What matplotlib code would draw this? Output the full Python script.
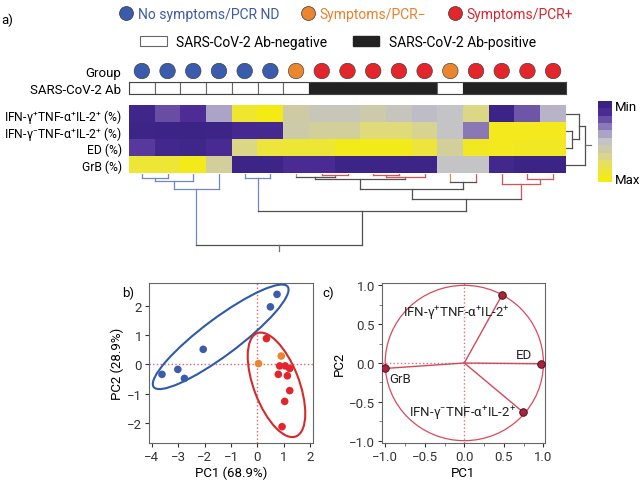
import numpy as np
import matplotlib
matplotlib.use('Agg')
import matplotlib.pyplot as plt
import matplotlib.colors as mcolors
from matplotlib.patches import Ellipse, Circle, Patch
from matplotlib.lines import Line2D
from matplotlib.ticker import AutoMinorLocator

plt.rcParams['font.family'] = ['Roboto', 'DejaVu Sans']
plt.rcParams['font.size'] = 10
plt.rcParams['axes.unicode_minus'] = True
plt.rcParams['mathtext.fontset'] = 'custom'
plt.rcParams['mathtext.rm'] = 'Roboto'
plt.rcParams['mathtext.it'] = 'Roboto'
plt.rcParams['mathtext.default'] = 'regular'

# ---- data ----
group_names = ['No symptoms/PCR ND', 'Symptoms/PCR\u2212', 'Symptoms/PCR+']
group_colors = ['#3b5cad', '#ea8530', '#e3262c']
group_text_colors = ['#3f5aa6', '#e8802a', '#d9262e']

# per subject (heatmap column order)
group = [0, 0, 0, 0, 0, 0, 1, 2, 2, 2, 2, 2, 1, 2, 2, 2, 2]
ab_pos = [0, 0, 0, 0, 0, 0, 0, 1, 1, 1, 1, 1, 0, 1, 1, 1, 1]

row_labels = ['IFN-\u03b3$^{+}$TNF-\u03b1$^{+}$IL-2$^{+}$ (%)',
              'IFN-\u03b3$^{-}$TNF-\u03b1$^{+}$IL-2$^{+}$ (%)',
              'ED (%)', 'GrB (%)']
# scaled values, 0 = min, 1 = max
ifn_pos = [0.05, 0.2, 0.12, 0.4, 0.92, 1.0, 0.62, 0.55, 0.55, 0.6, 0.53, 0.48, 0.5, 0.72, 0.02, 0.22, 0.45]
ifn_neg = [0.03, 0.02, 0.02, 0.03, 0.08, 0.08, 0.6, 0.65, 0.65, 0.75, 0.75, 0.68, 0.5, 0.3, 0.97, 0.97, 0.97]
ed_pct = [0.15, 0.06, 0.04, 0.09, 0.72, 0.88, 0.9, 0.9, 0.98, 0.98, 0.98, 0.88, 0.65, 0.95, 0.97, 0.95, 0.95]
grb_pct = [0.9, 0.9, 0.98, 0.65, 0.03, 0.03, 0.1, 0.1, 0.03, 0.03, 0.03, 0.03, 0.5, 0.5, 0.06, 0.02, 0.02]

# column clustering: (child a, child b, height); new clusters numbered from 17
col_merges = [(0, 1, 4), (17, 2, 7), (18, 3, 15), (4, 5, 4), (7, 8, 0.8), (6, 21, 3),
              (9, 10, 0.8), (23, 11, 3), (22, 24, 5), (12, 13, 8), (25, 26, 15),
              (15, 16, 5), (14, 28, 10), (27, 29, 25), (20, 30, 37), (19, 31, 71)]
# row clustering, new clusters numbered from 4
row_merges = [(1, 2, 6), (0, 4, 13), (5, 3, 19)]

# PCA scores
pc1 = [-3.61, -3.01, -2.76, -2.05, 0.49, 0.74, 0.04, 0.9,
       0.34, 0.84, 1.05, 1.22, 0.79, 1.13, 1.22, 1.03, 0.93]
pc2 = [-0.34, -0.17, -0.48, 0.52, 1.98, 2.41, 0.03, 0.29,
       0.89, -0.05, -0.05, -0.14, -0.34, -0.39, -0.9, -1.27, -2.14]
pc_group = [0, 0, 0, 0, 0, 0, 1, 1, 2, 2, 2, 2, 2, 2, 2, 2, 2]
# group ellipses: centre x, centre y, width, height, angle
ell_blue = (-1.39, 0.95, 6.13, 1.3, 34)
ell_red = (0.72, -0.7, 3.84, 1.7, -66.8)

# loadings
load_names = ['IFN-\u03b3$^{+}$TNF-\u03b1$^{+}$IL-2$^{+}$', 'ED', 'GrB',
              'IFN-\u03b3$^{-}$TNF-\u03b1$^{+}$IL-2$^{+}$']
load_x = [0.48, 0.97, -1.0, 0.74]
load_y = [0.88, -0.01, -0.07, -0.63]

# ---- layout helpers ----
W, H = 640, 481
def rect(x0, y0, x1, y1):
    return [x0 / W, 1 - y1 / H, (x1 - x0) / W, (y1 - y0) / H]

FS = 9.5
fig = plt.figure(figsize=(6.4, 4.81), dpi=100)

cmap = mcolors.LinearSegmentedColormap.from_list('minmax', [
    (0.0, '#382383'), (0.12, '#4e2d97'), (0.25, '#7a62ae'), (0.38, '#a79ec6'),
    (0.5, '#c4c3c6'), (0.62, '#cfcca4'), (0.75, '#e0db7c'), (0.88, '#ede53c'),
    (1.0, '#f5eb14')])

# legend rows
h1 = [Line2D([0], [0], marker='o', ls='', markerfacecolor=c, markeredgecolor='#333333',
             markeredgewidth=0.5, markersize=10) for c in group_colors]
leg1 = fig.legend(h1, group_names, loc='center', bbox_to_anchor=(346 / W, 1 - 15 / H),
                  ncol=3, frameon=False, fontsize=10, handletextpad=0.3,
                  columnspacing=1.6, handlelength=1.0)
for t, c in zip(leg1.get_texts(), group_text_colors):
    t.set_color(c)
h2 = [Patch(facecolor='white', edgecolor='#666666', lw=0.8),
      Patch(facecolor='#222222', edgecolor='#222222')]
fig.legend(h2, ['SARS-CoV-2 Ab-negative', 'SARS-CoV-2 Ab-positive'], loc='center',
           bbox_to_anchor=(338 / W, 1 - 43 / H), ncol=2, frameon=False, fontsize=10,
           handlelength=1.9, handleheight=0.8, handletextpad=0.7, columnspacing=1.8)

n = len(group)
xs = np.arange(n) + 0.5

# group dots
ax_g = fig.add_axes(rect(129, 62, 566, 82))
ax_g.scatter(xs, np.full(n, 0.5), c=[group_colors[g] for g in group], s=125,
             edgecolors='#333333', linewidths=0.4)
ax_g.set_xlim(0, n)
ax_g.set_ylim(0, 1)
ax_g.set_xticks([])
ax_g.set_yticks([0.5])
ax_g.set_yticklabels(['Group'], fontsize=FS)
ax_g.tick_params(length=0, pad=6)
for s in ax_g.spines.values():
    s.set_visible(False)

# antibody bar
ax_a = fig.add_axes(rect(129, 83, 566, 95))
ab_face = ['#222222' if a else 'white' for a in ab_pos]
ab_edge = ['#222222' if a else '#666666' for a in ab_pos]
ax_a.bar(xs, np.ones(n), width=1, color=ab_face, edgecolor=ab_edge, linewidth=0.8)
ax_a.set_xlim(0, n)
ax_a.set_ylim(0, 1)
ax_a.set_xticks([])
ax_a.set_yticks([0.5])
ax_a.set_yticklabels(['SARS-CoV-2 Ab'], fontsize=FS)
ax_a.tick_params(length=0, pad=6)
for s in ax_a.spines.values():
    s.set_color('#444444')
    s.set_linewidth(0.8)

# heatmap
data = np.array([ifn_pos, ifn_neg, ed_pct, grb_pct])
ax_h = fig.add_axes(rect(129, 106, 566, 174))
ax_h.imshow(data, cmap=cmap, vmin=0, vmax=1, aspect='auto', interpolation='nearest')
ax_h.set_xticks([])
ax_h.set_yticks(range(4))
ax_h.set_yticklabels(row_labels, fontsize=8.7)
ax_h.tick_params(length=0, pad=5)
for s in ax_h.spines.values():
    s.set_visible(False)

# dendrograms
dendro_colors = ['#7088c0', '#d89050', '#dc5058']
mixed = '#505050'

def draw_dendro(ax, merges, n_leaves, leaf_groups, vertical=True):
    pos = {i: i + 0.5 for i in range(n_leaves)}
    hgt = {i: 0 for i in range(n_leaves)}
    mem = {i: {i} for i in range(n_leaves)}
    def colour(k):
        if leaf_groups is None:
            return mixed
        gs = {leaf_groups[i] for i in mem[k]}
        return dendro_colors[gs.pop()] if len(gs) == 1 else mixed
    def seg(p, q, col):
        if vertical:
            ax.plot(p, q, color=col, lw=0.9)
        else:
            ax.plot(q, p, color=col, lw=0.9)
    for k, (a, b, h) in enumerate(merges):
        new = n_leaves + k
        mem[new] = mem[a] | mem[b]
        pos[new] = (pos[a] + pos[b]) / 2
        hgt[new] = h
        seg([pos[a], pos[a]], [hgt[a], h], colour(a))
        seg([pos[b], pos[b]], [hgt[b], h], colour(b))
        seg([pos[a], pos[b]], [h, h], colour(new))
    root = n_leaves + len(merges) - 1
    seg([pos[root], pos[root]], [hgt[root], hgt[root] + 6], '#707070')
    ax.axis('off')

ax_cd = fig.add_axes(rect(129, 175, 566, 255))
draw_dendro(ax_cd, col_merges, n, group, vertical=True)
ax_cd.set_xlim(0, n)
ax_cd.set_ylim(80, 0)

ax_rd = fig.add_axes(rect(566, 106, 594, 174))
draw_dendro(ax_rd, row_merges, 4, None, vertical=False)
ax_rd.set_xlim(0, 28)
ax_rd.set_ylim(4, 0)

# colour bar
ax_cb = fig.add_axes(rect(598, 102, 612, 183))
band_cmap = mcolors.ListedColormap(cmap(np.linspace(0, 1, 11)))
cb = fig.colorbar(plt.cm.ScalarMappable(norm=mcolors.Normalize(0, 1), cmap=band_cmap),
                  cax=ax_cb)
cb.outline.set_visible(False)
ax_cb.invert_yaxis()
cb.set_ticks([0.05, 0.95])
cb.set_ticklabels(['Min', 'Max'])
ax_cb.tick_params(length=0, pad=2, labelsize=FS)

# ---- panel b: PCA scores ----
ax_b = fig.add_axes(rect(149, 284, 313, 444))
pc1 = np.array(pc1)
pc2 = np.array(pc2)
pc_group = np.array(pc_group)
ax_b.axhline(0, color='#e06070', ls=':', lw=1, zorder=1)
ax_b.axvline(0, color='#e06070', ls=':', lw=1, zorder=1)
for g in range(3):
    m = pc_group == g
    ax_b.scatter(pc1[m], pc2[m], color=group_colors[g], s=30, zorder=3, edgecolors='none')
for e, c in [(ell_blue, '#2f5aa8'), (ell_red, '#d42a2a')]:
    ax_b.add_patch(Ellipse((e[0], e[1]), e[2], e[3], angle=e[4], fill=False,
                           edgecolor=c, lw=1.5, zorder=2))
ax_b.set_xlim(-4.1, 2.1)
ax_b.set_ylim(-2.7, 2.8)
ax_b.set_xticks(range(-4, 3))
ax_b.set_yticks(range(-2, 3))
ax_b.set_xlabel('PC1 (68.9%)', fontsize=FS, labelpad=2)
ax_b.set_ylabel('PC2 (28.9%)', fontsize=FS, labelpad=2)

# ---- panel c: loadings ----
ax_c = fig.add_axes(rect(382, 284, 545, 444))
ax_c.axhline(0, color='#e07080', ls=':', lw=1, zorder=1)
ax_c.axvline(0, color='#e07080', ls=':', lw=1, zorder=1)
ax_c.add_patch(Circle((0, 0), 1, fill=False, edgecolor='#d94a5c', lw=0.9))
for x, y in zip(load_x, load_y):
    ax_c.plot([0, x], [0, y], color='#d04a5a', lw=1, zorder=2)
ax_c.scatter(load_x, load_y, s=30, color='#a8243c', edgecolors='#3a0a10',
             linewidths=0.6, zorder=4)
label_offsets = [(-33, -13, 'center'), (-12, 6.5, 'center'), (11, -7, 'center'),
                 (-5, 0, 'right')]
for name, x, y, (dx, dy, ha) in zip(load_names, load_x, load_y, label_offsets):
    ax_c.annotate(name, (x, y), xytext=(dx, dy), textcoords='offset points',
                  ha=ha, va='center', fontsize=FS, color='#222222')
ax_c.set_xlim(-1.04, 1.02)
ax_c.set_ylim(-1.03, 1.03)
ax_c.set_xticks([-1, -0.5, 0, 0.5, 1])
ax_c.set_yticks([-1, -0.5, 0, 0.5, 1])
ax_c.xaxis.set_minor_locator(AutoMinorLocator(2))
ax_c.yaxis.set_minor_locator(AutoMinorLocator(2))
ax_c.set_xlabel('PC1', fontsize=FS, labelpad=2)
ax_c.set_ylabel('PC2', fontsize=FS, labelpad=2)

for ax in (ax_b, ax_c):
    for s in ax.spines.values():
        s.set_color('#666666')
    ax.tick_params(labelsize=FS, colors='#333333', length=3, pad=2)
    ax.tick_params(which='minor', length=2, color='#666666')

fig.text(1 / W, 1 - 20 / H, 'a)', fontsize=FS, va='center')
fig.text(122 / W, 1 - 293 / H, 'b)', fontsize=FS, va='center')
fig.text(322 / W, 1 - 293 / H, 'c)', fontsize=FS, va='center')

fig.savefig('out.png', dpi=100)
